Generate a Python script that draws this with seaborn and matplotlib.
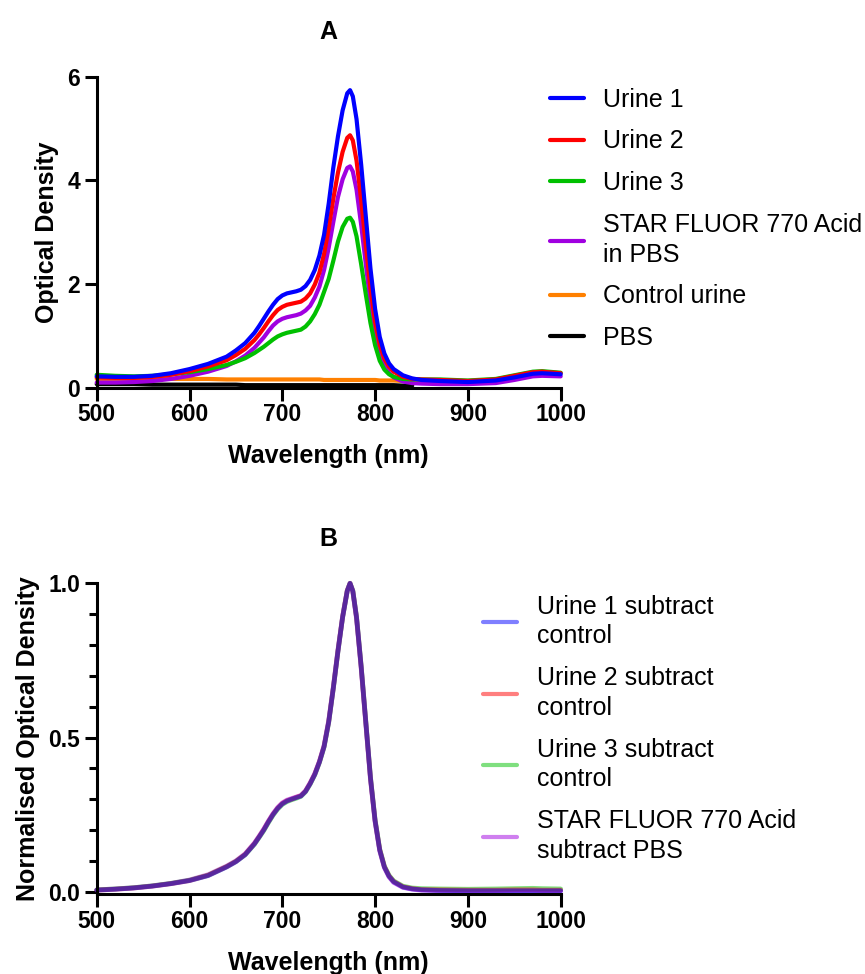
import matplotlib
matplotlib.use("Agg")
import matplotlib.pyplot as plt
from matplotlib.lines import Line2D
from matplotlib.ticker import MultipleLocator
import pandas as pd
import seaborn as sns

NA = float("nan")

# Wavelength grid (nm)
wavelength = [500, 520, 540, 560, 580, 600, 620, 640, 650, 660, 670, 675, 680, 685, 690,
              695, 700, 705, 710, 715, 720, 725, 730, 735, 740, 745, 750, 755, 760, 765,
              770, 773, 776, 780, 785, 790, 795, 800, 805, 810, 815, 820, 830, 840, 850,
              870, 900, 930, 950, 970, 980, 1000]

# Panel A: raw optical density
urine_1 = [0.22, 0.21, 0.21, 0.23, 0.28, 0.36, 0.46, 0.60, 0.72, 0.86, 1.06, 1.19, 1.33, 1.47, 1.60,
           1.71, 1.78, 1.82, 1.84, 1.86, 1.89, 1.96, 2.08, 2.27, 2.55, 2.95, 3.55, 4.25, 4.85, 5.35,
           5.68, 5.74, 5.62, 5.18, 4.30, 3.30, 2.30, 1.52, 0.98, 0.66, 0.47, 0.36, 0.24, 0.18, 0.15,
           0.13, 0.11, 0.14, 0.20, 0.27, 0.28, 0.26]
urine_2 = [0.20, 0.19, 0.19, 0.21, 0.25, 0.32, 0.41, 0.53, 0.63, 0.75, 0.92, 1.03, 1.15, 1.28, 1.40,
           1.50, 1.56, 1.60, 1.62, 1.64, 1.66, 1.72, 1.82, 1.99, 2.22, 2.58, 3.08, 3.65, 4.15, 4.55,
           4.82, 4.87, 4.77, 4.38, 3.62, 2.75, 1.92, 1.27, 0.83, 0.56, 0.41, 0.31, 0.21, 0.17, 0.16,
           0.15, 0.13, 0.16, 0.23, 0.30, 0.31, 0.28]
urine_3 = [0.25, 0.23, 0.22, 0.23, 0.26, 0.30, 0.36, 0.44, 0.50, 0.57, 0.67, 0.73, 0.79, 0.86, 0.93,
           0.99, 1.03, 1.06, 1.08, 1.10, 1.12, 1.18, 1.28, 1.42, 1.60, 1.85, 2.10, 2.45, 2.82, 3.10,
           3.26, 3.28, 3.20, 2.92, 2.38, 1.80, 1.25, 0.82, 0.52, 0.35, 0.26, 0.21, 0.17, 0.16, 0.16,
           0.16, 0.14, 0.17, 0.24, 0.31, 0.32, 0.29]
star_fluor_pbs = [0.10, 0.10, 0.11, 0.13, 0.17, 0.23, 0.31, 0.42, 0.51, 0.62, 0.77, 0.87, 0.97, 1.09, 1.20,
                  1.28, 1.33, 1.36, 1.38, 1.40, 1.43, 1.49, 1.58, 1.74, 1.95, 2.27, 2.70, 3.20, 3.68, 4.02,
                  4.24, 4.27, 4.17, 3.82, 3.14, 2.38, 1.64, 1.06, 0.67, 0.43, 0.29, 0.20, 0.12, 0.09, 0.08,
                  0.07, 0.07, 0.09, 0.15, 0.22, 0.23, 0.22]
control_urine = [0.17, 0.17, 0.17, 0.17, 0.17, 0.17, 0.17, 0.16, 0.16, 0.16, 0.16, 0.16, 0.16, 0.16, 0.16,
                 0.16, 0.16, 0.16, 0.16, 0.16, 0.16, 0.16, 0.16, 0.16, 0.16, 0.15, 0.15, 0.15, 0.15, 0.15,
                 0.15, 0.15, 0.15, 0.15, 0.15, 0.15, 0.15, 0.15, 0.14, 0.14, 0.14, 0.14, 0.13, 0.13, NA,
                 NA, NA, NA, NA, NA, NA, NA]
pbs = [0.07, 0.07, 0.07, 0.06, 0.06, 0.06, 0.06, 0.06, 0.06, 0.05, 0.05, 0.05, 0.05, 0.05, 0.05,
       0.05, 0.05, 0.05, 0.05, 0.05, 0.05, 0.05, 0.05, 0.05, 0.05, 0.05, 0.05, 0.05, 0.05, 0.05,
       0.05, 0.05, 0.05, 0.05, 0.05, 0.05, 0.05, 0.05, 0.05, 0.05, 0.05, 0.05, 0.04, 0.04, NA,
       NA, NA, NA, NA, NA, NA, NA]

# Panel B: background-subtracted, normalised optical density
norm_urine_1 = [0.005, 0.008, 0.012, 0.018, 0.026, 0.036, 0.052, 0.080, 0.097, 0.120, 0.155, 0.177, 0.200, 0.226, 0.250,
                0.270, 0.285, 0.294, 0.300, 0.305, 0.310, 0.325, 0.350, 0.380, 0.420, 0.470, 0.550, 0.660, 0.780, 0.890,
                0.975, 1.000, 0.975, 0.890, 0.730, 0.550, 0.370, 0.230, 0.135, 0.080, 0.050, 0.032, 0.015, 0.009, 0.006,
                0.004, 0.003, 0.003, 0.003, 0.003, 0.003, 0.003]
norm_urine_2 = [0.005, 0.008, 0.012, 0.018, 0.026, 0.036, 0.053, 0.081, 0.098, 0.121, 0.156, 0.178, 0.201, 0.227, 0.251,
                0.271, 0.286, 0.295, 0.300, 0.306, 0.311, 0.326, 0.351, 0.381, 0.421, 0.471, 0.551, 0.661, 0.781, 0.891,
                0.976, 1.000, 0.975, 0.889, 0.729, 0.549, 0.369, 0.230, 0.136, 0.081, 0.051, 0.033, 0.016, 0.010, 0.007,
                0.006, 0.005, 0.005, 0.006, 0.006, 0.005, 0.005]
norm_urine_3 = [0.006, 0.009, 0.013, 0.019, 0.027, 0.037, 0.053, 0.081, 0.098, 0.120, 0.154, 0.176, 0.198, 0.224, 0.248,
                0.268, 0.283, 0.292, 0.298, 0.303, 0.309, 0.324, 0.349, 0.379, 0.419, 0.469, 0.549, 0.660, 0.780, 0.890,
                0.976, 1.000, 0.976, 0.891, 0.732, 0.552, 0.372, 0.233, 0.138, 0.083, 0.053, 0.035, 0.018, 0.012, 0.010,
                0.009, 0.008, 0.009, 0.010, 0.011, 0.010, 0.009]
norm_star_fluor = [0.006, 0.009, 0.013, 0.019, 0.027, 0.038, 0.055, 0.083, 0.100, 0.123, 0.158, 0.180, 0.203, 0.229, 0.253,
                   0.273, 0.288, 0.297, 0.302, 0.307, 0.312, 0.327, 0.353, 0.383, 0.423, 0.474, 0.555, 0.665, 0.785, 0.893,
                   0.977, 1.000, 0.973, 0.885, 0.724, 0.544, 0.364, 0.226, 0.132, 0.078, 0.048, 0.030, 0.014, 0.008, 0.005,
                   0.003, 0.002, 0.002, 0.002, 0.002, 0.002, 0.002]

labels_a = ["Urine 1", "Urine 2", "Urine 3", "STAR FLUOR 770 Acid\nin PBS", "Control urine", "PBS"]
series_a = [urine_1, urine_2, urine_3, star_fluor_pbs, control_urine, pbs]
colors_a = ["#0000ff", "#ff0000", "#00c000", "#a000e0", "#ff8000", "#000000"]

labels_b = ["Urine 1 subtract\ncontrol", "Urine 2 subtract\ncontrol",
            "Urine 3 subtract\ncontrol", "STAR FLUOR 770 Acid\nsubtract PBS"]
series_b = [norm_urine_1, norm_urine_2, norm_urine_3, norm_star_fluor]
colors_b = ["#0000ff", "#ff0000", "#00c000", "#a000e0"]


def long_frame(labels, series):
    frames = []
    for lab, vals in zip(labels, series):
        frames.append(pd.DataFrame({"Wavelength": wavelength, "Value": vals, "Sample": lab}))
    return pd.concat(frames, ignore_index=True).dropna()


df_a = long_frame(labels_a, series_a)
df_b = long_frame(labels_b, series_b)

sns.set_theme(style="ticks")
plt.rcParams["font.family"] = ["Liberation Sans", "DejaVu Sans"]
plt.rcParams.update({
    "axes.linewidth": 2.2,
    "text.color": "black",
    "axes.labelcolor": "black",
    "axes.edgecolor": "black",
    "xtick.color": "black",
    "ytick.color": "black",
})

fig = plt.figure(figsize=(8.65, 9.74), dpi=100)
ax_a = fig.add_axes([0.1118, 0.6019, 0.5364, 0.3194])
ax_b = fig.add_axes([0.1118, 0.0818, 0.5364, 0.3193])

LW = 3.0

# Panel A: later legend entries are drawn first so Urine 1 ends up on top
for lab, col in reversed(list(zip(labels_a, colors_a))):
    sns.lineplot(data=df_a[df_a["Sample"] == lab], x="Wavelength", y="Value",
                 color=col, linewidth=LW, estimator=None, sort=False,
                 legend=False, ax=ax_a, clip_on=False)

# Panel B: translucent overlapping traces
for lab, col in reversed(list(zip(labels_b, colors_b))):
    sns.lineplot(data=df_b[df_b["Sample"] == lab], x="Wavelength", y="Value",
                 color=col, alpha=0.5, linewidth=3.4, estimator=None, sort=False,
                 legend=False, ax=ax_b, clip_on=False)

LABEL_SIZE = 18
TICK_SIZE = 16.5

for ax in (ax_a, ax_b):
    ax.set_xlim(500, 1000)
    ax.xaxis.set_major_locator(MultipleLocator(100))
    ax.tick_params(axis="both", which="major", direction="out", length=9, width=2.2,
                   labelsize=TICK_SIZE)
    ax.tick_params(axis="x", which="major", pad=2)
    ax.tick_params(axis="y", which="major", pad=3)
    ax.tick_params(axis="both", which="minor", direction="out", length=5.5, width=2.2)
    for side in ("top", "right"):
        ax.spines[side].set_visible(False)
    ax.set_xlabel("Wavelength (nm)", fontsize=LABEL_SIZE, fontweight="bold", labelpad=13)

ax_a.set_ylim(0, 6)
ax_a.set_yticks([0, 2, 4, 6])
ax_a.set_ylabel("Optical Density", fontsize=LABEL_SIZE, fontweight="bold", labelpad=6)
ax_a.set_title("A", fontsize=LABEL_SIZE, fontweight="bold", pad=27)

ax_b.set_ylim(-0.0085, 1.0)
ax_b.set_yticks([0.0, 0.5, 1.0])
ax_b.yaxis.set_major_formatter(lambda v, pos: f"{v:.1f}")
ax_b.yaxis.set_minor_locator(MultipleLocator(0.1))
ax_b.set_ylabel("Normalised Optical Density", fontsize=LABEL_SIZE, fontweight="bold", labelpad=6)
ax_b.set_title("B", fontsize=LABEL_SIZE, fontweight="bold", pad=27)

for ax in (ax_a, ax_b):
    for lbl in ax.get_xticklabels() + ax.get_yticklabels():
        lbl.set_fontweight("bold")

legend_kw = dict(frameon=False, fontsize=18, handlelength=1.35, handletextpad=0.78,
                 labelspacing=0.71, borderpad=0, borderaxespad=0, loc="upper left")

handles_a = [Line2D([], [], color=c, linewidth=LW) for c in colors_a]
leg_a = ax_a.legend(handles_a, labels_a, bbox_to_anchor=(0.6358, 0.910),
                    bbox_transform=fig.transFigure, **legend_kw)

handles_b = [Line2D([], [], color=c, alpha=0.5, linewidth=LW) for c in colors_b]
leg_b = ax_b.legend(handles_b, labels_b, bbox_to_anchor=(0.5588, 0.3894),
                    bbox_transform=fig.transFigure, **legend_kw)

for leg in (leg_a, leg_b):
    for txt in leg.get_texts():
        txt.set_linespacing(1.3)

fig.savefig("out.png", dpi=100)
